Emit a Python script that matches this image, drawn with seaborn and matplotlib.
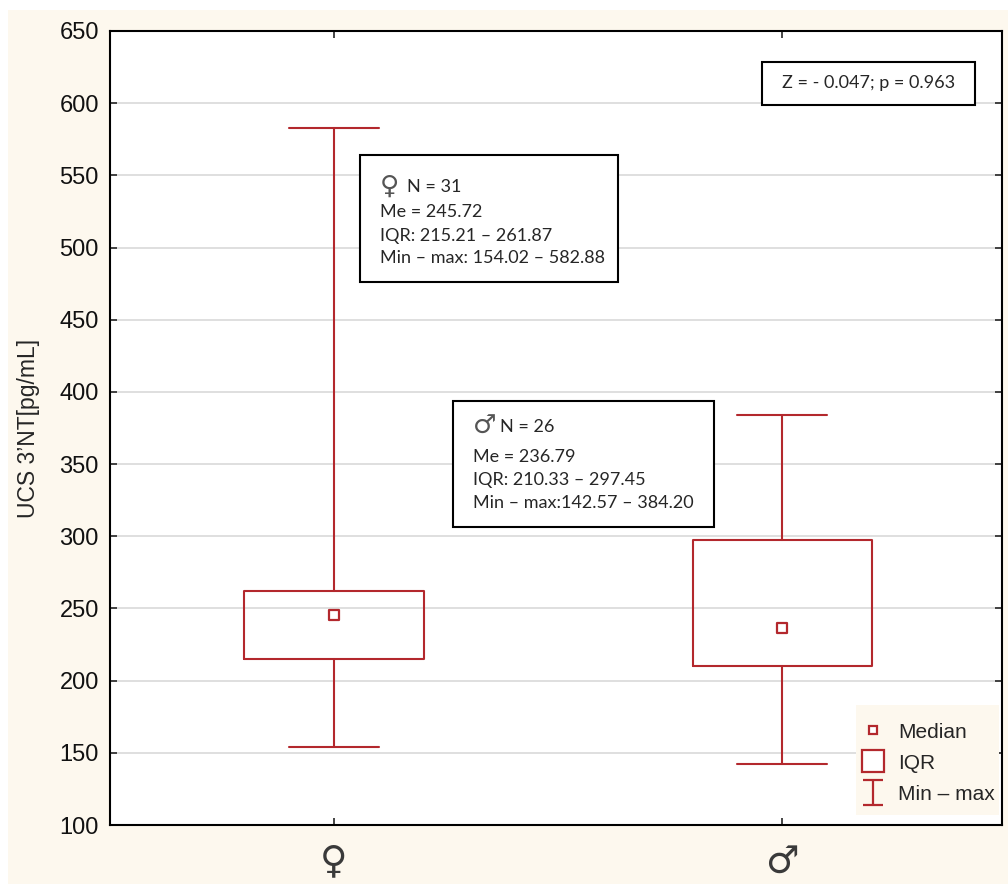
import matplotlib
matplotlib.use("Agg")
import matplotlib.pyplot as plt
import seaborn as sns
import pandas as pd
from matplotlib.patches import Rectangle
from matplotlib.lines import Line2D
from matplotlib.path import Path

# Summary statistics of UCS 3'NT by sex
groups = ["♀", "♂"]
n_obs = [31, 26]
medians = [245.72, 236.79]
q1 = [215.21, 210.33]
q3 = [261.87, 297.45]
mins = [154.02, 142.57]
maxs = [582.88, 384.20]
z_stat = -0.047
p_value = 0.963
y_ticks = list(range(100, 651, 50))

RED = "#B3282D"
CREAM = "#FDF8EE"
TEXT_FONT = ["Lato", "DejaVu Sans"]
SYMBOL_FONT = ["DejaVu Sans"]

sns.set_theme(style="white")
plt.rcParams["font.family"] = ["Liberation Sans", "DejaVu Sans"]

fig = plt.figure(figsize=(10.08, 8.84), dpi=100)
fig.patch.set_facecolor("white")
fig.add_artist(Rectangle((0.008, 0), 0.992, 0.989, transform=fig.transFigure,
                         facecolor=CREAM, edgecolor="none", zorder=-10))
ax = fig.add_axes([0.109, 0.0667, 0.885, 0.8983])
ax.set_facecolor("white")

# Box (IQR) and whiskers (min - max)
stats = [dict(med=m, q1=a, q3=b, whislo=lo, whishi=hi, fliers=[])
         for m, a, b, lo, hi in zip(medians, q1, q3, mins, maxs)]
line_kw = dict(color=RED, linewidth=1.5)
ax.bxp(stats, positions=[0, 1], widths=0.4, capwidths=0.2, showfliers=False,
       boxprops=line_kw, whiskerprops=line_kw, capprops=line_kw,
       medianprops=dict(visible=False), manage_ticks=False)

# Median markers
df = pd.DataFrame({"pos": [0, 1], "median": medians})
sns.scatterplot(data=df, x="pos", y="median", marker="s", s=50,
                facecolor="white", edgecolor=RED, linewidth=1.6, ax=ax, zorder=5)

ax.set_xlim(-0.5, 1.49)
ax.set_ylim(100, 650)
ax.set_yticks(y_ticks)
ax.set_xticks([0, 1])
ax.set_xticklabels(groups, fontsize=27, family=SYMBOL_FONT, color="#3a3a3a")
ax.set_xlabel("")
ax.set_ylabel("UCS 3’NT[pg/mL]", fontsize=16.5, labelpad=14)
ax.tick_params(axis="y", labelsize=17, direction="in", length=5, width=1.2,
               left=True, right=True, pad=8, labelcolor="#111111")
ax.tick_params(axis="x", direction="in", length=5, width=1.2,
               bottom=True, top=True, pad=14)
ax.yaxis.grid(True, color="#DCDCDC", linewidth=1.3)
ax.xaxis.grid(False)
ax.set_axisbelow(True)
for sp in ax.spines.values():
    sp.set_color("black")
    sp.set_linewidth(1.5)


def stat_box(x0, x1, y0, y1, tx, ys, symbol, n, me, lo_q, hi_q, lo, hi, colon_sep):
    ax.add_patch(Rectangle((x0, y0), x1 - x0, y1 - y0, transform=ax.transAxes,
                           facecolor="white", edgecolor="black", linewidth=1.5, zorder=6))
    ax.text(tx, ys[0], symbol, transform=ax.transAxes, fontsize=19, family=SYMBOL_FONT,
            color="#555555", va="center", ha="left", zorder=7)
    ax.text(tx + 0.030, ys[0], f"N = {n}", transform=ax.transAxes, fontsize=13,
            family=TEXT_FONT, va="center", ha="left", zorder=7)
    lines = [f"Me = {me:.2f}",
             f"IQR: {lo_q:.2f} – {hi_q:.2f}",
             f"Min – max:{colon_sep}{lo:.2f} – {hi:.2f}"]
    for y, s in zip(ys[1:], lines):
        ax.text(tx, y, s, transform=ax.transAxes, fontsize=13, family=TEXT_FONT,
                va="center", ha="left", zorder=7)


stat_box(0.280, 0.5695, 0.684, 0.844, 0.3027, [0.804, 0.7724, 0.7418, 0.7137],
         groups[0], n_obs[0], medians[0], q1[0], q3[0], mins[0], maxs[0], " ")
stat_box(0.3845, 0.677, 0.375, 0.534, 0.4073, [0.5013, 0.4638, 0.4345, 0.405],
         groups[1], n_obs[1], medians[1], q1[1], q3[1], mins[1], maxs[1], "")

# Test result
ax.add_patch(Rectangle((0.731, 0.907), 0.239, 0.054, transform=ax.transAxes,
                       facecolor="white", edgecolor="black", linewidth=1.5, zorder=6))
ax.text(0.8505, 0.9345, f"Z = - {abs(z_stat):.3f}; p = {p_value:.3f}",
        transform=ax.transAxes, fontsize=13, family=TEXT_FONT,
        ha="center", va="center", zorder=7)

# Legend on a cream panel
ax.add_patch(Rectangle((0.8363, 0.0126), 0.1603, 0.1385, transform=ax.transAxes,
                       facecolor=CREAM, edgecolor="none", zorder=7))
range_marker = Path([(-0.8, 1), (0.8, 1), (0, 1), (0, -1), (-0.8, -1), (0.8, -1)],
                    [Path.MOVETO, Path.LINETO, Path.MOVETO, Path.LINETO,
                     Path.MOVETO, Path.LINETO])
handles = [
    Line2D([], [], marker="s", ms=6.2, mfc="white", mec=RED, mew=1.6, ls="none"),
    Line2D([], [], marker="s", ms=16, mfc="white", mec=RED, mew=1.6, ls="none"),
    Line2D([], [], marker=range_marker, ms=18, color=RED, mew=1.6, ls="none"),
]
leg = ax.legend(handles, ["Median", "IQR", "Min – max"], loc="upper left",
                bbox_to_anchor=(0.8430, 0.129), fontsize=15, frameon=False,
                labelspacing=0.58, handletextpad=0.67, handlelength=1.06,
                borderaxespad=0.0, borderpad=0.0)
leg.set_zorder(8)

fig.savefig("out.png", dpi=100)
